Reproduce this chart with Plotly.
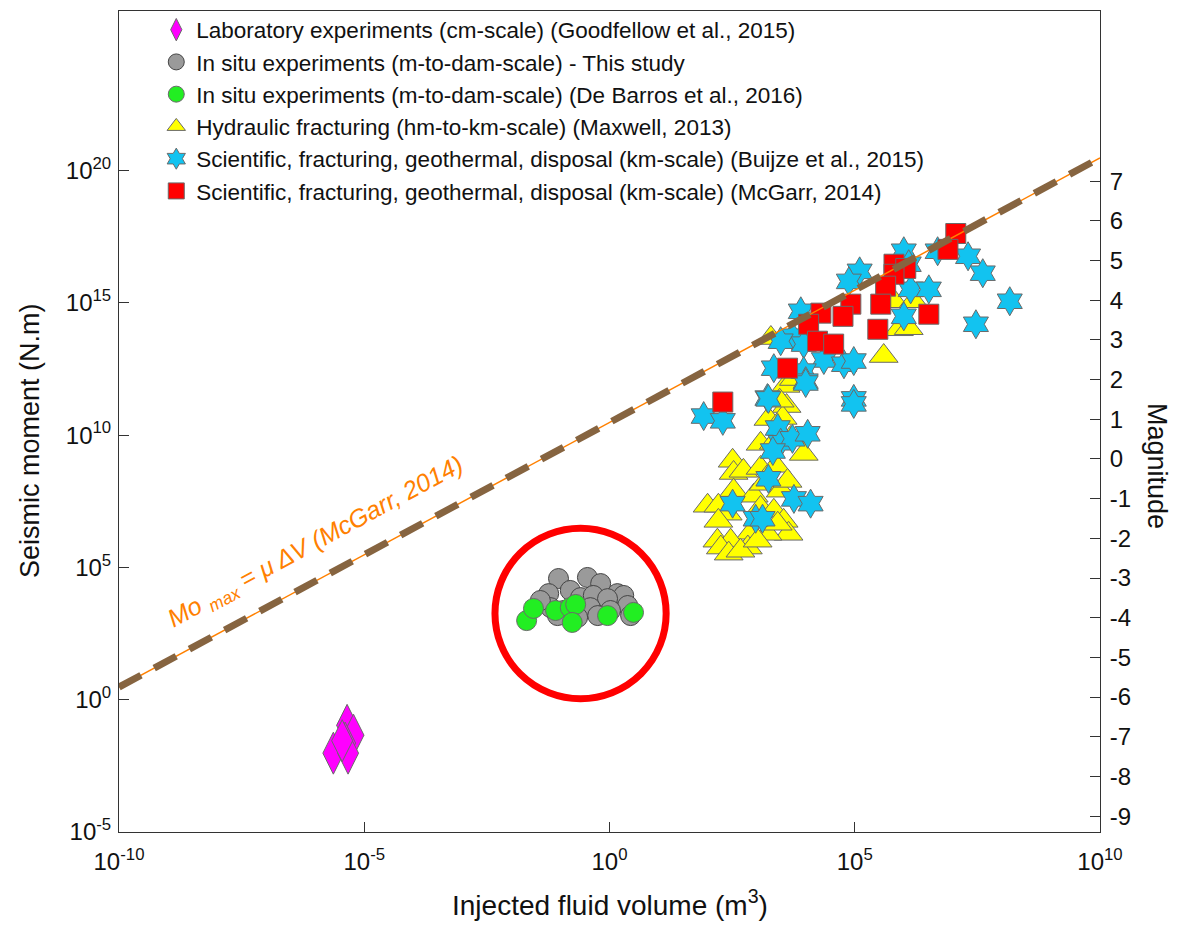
import plotly.graph_objects as go

FONT = "Liberation Sans, Arial, Helvetica, sans-serif"

# ---- data (log10 of injected volume [m3] and seismic moment [N.m]) ----
lab_logV = [-5.35, -5.22, -5.39, -5.63, -5.33, -5.45]
lab_logM = [-0.97, -1.34, -1.64, -2.02, -2.02, -1.55]

situ_logV = [-1.04, -0.45, -0.18, 0.16, 0.29, -1.24, -0.80, -0.59, -0.33, -0.04,
             0.37, -1.20, -0.94, -0.39, 0.02, 0.43, -0.65, -0.24, -1.06, -1.41]
situ_logM = [4.58, 4.62, 4.39, 4.01, 3.94, 4.01, 4.13, 3.86, 3.94, 3.82,
             3.56, 3.48, 3.37, 3.48, 3.37, 3.18, 3.11, 3.18, 3.18, 3.75]

debarros_logV = [-1.69, -1.55, -1.10, -0.80, -0.69, -0.76, -0.04, 0.49]
debarros_logM = [2.99, 3.45, 3.37, 3.48, 3.60, 2.92, 3.18, 3.30]

maxwell_logV = [3.59, 3.61, 3.24, 3.53, 3.08, 3.35, 3.69, 3.96, 2.51, 2.53,
                2.73, 3.08, 3.39, 2.53, 2.94, 3.14, 3.49, 3.63, 2.00, 2.22,
                2.41, 2.22, 3.08, 3.35, 3.55, 3.65, 3.22, 2.88, 2.20, 2.47,
                2.27, 2.43, 2.82, 2.67, 3.02, 3.43, 3.29, 3.76, 5.80, 6.20,
                5.90, 6.10, 5.59, 3.47]
maxwell_logM = [11.86, 11.10, 10.61, 10.65, 9.67, 9.71, 9.89, 9.29, 9.03, 8.57,
                8.65, 8.76, 8.84, 7.90, 7.71, 8.16, 7.90, 8.27, 7.33, 7.33,
                7.03, 6.76, 7.25, 7.14, 6.76, 6.27, 6.27, 6.31, 6.01, 6.01,
                5.75, 5.52, 5.75, 5.63, 6.01, 6.65, 13.67, 12.12, 15.06, 15.06,
                14.00, 14.04, 12.99, 11.30]

buijze_logV = [6.00, 6.69, 7.31, 7.61, 8.16, 7.47, 5.10, 4.88, 6.14, 6.51,
               6.00, 3.90, 3.73, 3.49, 3.96, 4.37, 4.78, 4.98, 3.35, 3.96,
               4.00, 3.22, 4.98, 6.10, 3.24, 4.00, 1.92, 2.31, 4.98, 3.43,
               3.49, 3.73, 4.04, 3.33, 3.24, 2.51, 3.76, 4.10, 2.98, 3.12]
buijze_logM = [16.95, 16.95, 16.76, 16.12, 15.06, 14.19, 16.19, 15.81, 15.51, 15.51,
               14.49, 14.68, 13.74, 13.55, 13.44, 12.84, 12.68, 12.80, 12.53, 12.42,
               12.04, 11.40, 11.37, 16.46, 11.37, 11.97, 10.72, 10.54, 11.18, 10.27,
               9.71, 9.86, 10.05, 9.40, 8.35, 7.41, 7.59, 7.41, 6.84, 6.84]

mcgarr_logV = [7.06, 6.90, 5.80, 6.04, 5.80, 5.63, 4.92, 4.76, 4.31, 4.06,
               4.24, 4.57, 5.53, 5.47, 6.51, 3.63, 2.31]
mcgarr_logM = [17.62, 17.02, 16.46, 16.30, 16.08, 15.63, 14.95, 14.49, 14.61, 14.19,
               13.55, 13.44, 14.95, 14.00, 14.57, 12.53, 11.25]

# McGarr (2014) bound: Mo_max = mu * dV, shear modulus mu = 3e10 Pa
shear_modulus = 3e10
line_V = [1e-10, 1e10]

# axes
x_log_range = [-10, 10]
y_log_range = [-5, 26.03]
x_tick_exp = [-10, -5, 0, 5, 10]
y_tick_exp = [-5, 0, 5, 10, 15, 20]
mag_ticks = list(range(-9, 8))
# Hanks & Kanamori: Mw = (log10(M0) - 9.1) / 1.5
mag_range = [(y_log_range[0] - 9.1) / 1.5, (y_log_range[1] - 9.1) / 1.5]

# highlight ring (log10 centre, radius in decades)
ring_logV, ring_logM = -0.59, 3.26
ring_rV, ring_rM = 1.745, 3.22


def p10(vals):
    return [10.0 ** float(v) for v in vals]


def sup(e):
    return "10<sup>%d</sup>" % e


edge = dict(color="#6a6a6a", width=1)

fig = go.Figure()
fig.add_trace(go.Scatter(
    x=p10(lab_logV), y=p10(lab_logM), mode="markers",
    name="Laboratory experiments (cm-scale) (Goodfellow et al., 2015)",
    marker=dict(symbol="diamond-tall", size=30, color="#ff00ff", line=edge)))
fig.add_trace(go.Scatter(
    x=p10(situ_logV), y=p10(situ_logM), mode="markers",
    name="In situ experiments (m-to-dam-scale) - This study",
    marker=dict(symbol="circle", size=20, color="#9a9a9a", line=dict(color="#444", width=1))))
fig.add_trace(go.Scatter(
    x=p10(debarros_logV), y=p10(debarros_logM), mode="markers",
    name="In situ experiments (m-to-dam-scale) (De Barros et al., 2016)",
    marker=dict(symbol="circle", size=20, color="#22ee22", line=edge)))
fig.add_trace(go.Scatter(
    x=p10(maxwell_logV), y=p10(maxwell_logM), mode="markers",
    name="Hydraulic fracturing (hm-to-km-scale) (Maxwell, 2013)",
    marker=dict(symbol="triangle-up", size=25, color="#ffff00", line=edge)))
fig.add_trace(go.Scatter(
    x=p10(buijze_logV), y=p10(buijze_logM), mode="markers",
    name="Scientific, fracturing, geothermal, disposal (km-scale) (Buijze et al., 2015)",
    marker=dict(symbol="hexagram", size=22, color="#12c3f0", line=edge)))
fig.add_trace(go.Scatter(
    x=p10(mcgarr_logV), y=p10(mcgarr_logM), mode="markers",
    name="Scientific, fracturing, geothermal, disposal (km-scale) (McGarr, 2014)",
    marker=dict(symbol="square", size=20, color="#ff0000", line=edge)))

line_M = [shear_modulus * v for v in line_V]
fig.add_trace(go.Scatter(x=line_V, y=line_M, mode="lines", showlegend=False,
                         hoverinfo="skip", line=dict(color="#ff8000", width=1.5)))
fig.add_trace(go.Scatter(x=line_V, y=line_M, mode="lines", showlegend=False,
                         hoverinfo="skip",
                         line=dict(color="#866440", width=7, dash="25px,15px")))
# right-hand magnitude axis
fig.add_trace(go.Scatter(x=[], y=[], yaxis="y2", showlegend=False, hoverinfo="skip"))

# ring in paper coordinates
xs = x_log_range[1] - x_log_range[0]
ys = y_log_range[1] - y_log_range[0]
fig.add_shape(type="circle", xref="paper", yref="paper",
              x0=(ring_logV - ring_rV - x_log_range[0]) / xs,
              x1=(ring_logV + ring_rV - x_log_range[0]) / xs,
              y0=(ring_logM - ring_rM - y_log_range[0]) / ys,
              y1=(ring_logM + ring_rM - y_log_range[0]) / ys,
              line=dict(color="#ff0000", width=7))

axis_common = dict(showgrid=False, zeroline=False, showline=True, linecolor="#333",
                   linewidth=1, ticks="inside", ticklen=10, tickcolor="#333",
                   tickfont=dict(family=FONT, size=24, color="#111"))

fig.update_layout(
    width=1182, height=934,
    margin=dict(l=119, r=82, t=9, b=102),
    paper_bgcolor="white", plot_bgcolor="white",
    font=dict(family=FONT, color="#111"),
    xaxis=dict(type="log", range=x_log_range, mirror=True, ticklabelstandoff=8,
               tickvals=p10(x_tick_exp), ticktext=[sup(e) for e in x_tick_exp],
               **axis_common),
    yaxis=dict(type="log", range=y_log_range, ticklabelstandoff=2,
               tickvals=p10(y_tick_exp), ticktext=[sup(e) for e in y_tick_exp],
               **axis_common),
    yaxis2=dict(overlaying="y", side="right", range=mag_range, ticklabelstandoff=4,
                tickvals=mag_ticks, ticktext=[str(m) for m in mag_ticks],
                **axis_common),
    legend=dict(x=0.038, y=1.003, xanchor="left", yanchor="top",
                bgcolor="rgba(255,255,255,0)", borderwidth=0,
                font=dict(family=FONT, size=22.5, color="#111"), tracegroupgap=0),
    showlegend=True,
)

ann_font = dict(family=FONT, size=27, color="#111")
fig.add_annotation(text="Seismic moment (N.m)", xref="paper", yref="paper",
                   x=(30 - 119) / 981, y=(832 - 440) / 823, showarrow=False,
                   xanchor="center", yanchor="middle", textangle=-90, font=ann_font)
fig.add_annotation(text="Injected fluid volume (m<sup>3</sup>)", xref="paper", yref="paper",
                   x=(610 - 119) / 981, y=(832 - 903) / 823, showarrow=False,
                   xanchor="center", yanchor="middle",
                   font=dict(family=FONT, size=28, color="#111"))
fig.add_annotation(text="Magnitude", xref="paper", yref="paper",
                   x=(1157 - 119) / 981, y=(832 - 465) / 823, showarrow=False,
                   xanchor="center", yanchor="middle", textangle=90, font=ann_font)
fig.add_annotation(text="<i>Mo <sub>max</sub> = \u03bc \u0394V (McGarr, 2014)</i>",
                   x=-6.0, y=5.94, xref="x", yref="y", showarrow=False,
                   xanchor="center", yanchor="middle",
                   textangle=-28.4, font=dict(family=FONT, size=25, color="#ff8000"))

fig.write_html("out.html")
